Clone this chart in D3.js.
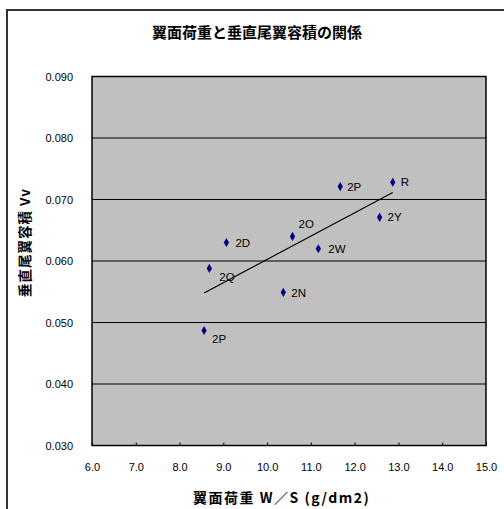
<!DOCTYPE html>
<html><head><meta charset="utf-8">
<script src="https://cdn.jsdelivr.net/npm/d3@7"></script>
<style>
html,body{margin:0;padding:0;background:#fff;}
svg{display:block;}
text{font-family:"Liberation Sans","Noto Sans CJK JP",sans-serif;fill:#000;}
text.jp{font-family:"Noto Sans CJK JP",sans-serif;}
</style></head>
<body>
<svg id="c" width="504" height="509"></svg>
<script>
const titleText = "翼面荷重と垂直尾翼容積の関係";
const xTitle = "翼面荷重 W／S (g/dm2)";
const yTitle = "垂直尾翼容積 Vv";
const names = ["R","2P","2Y","2O","2D","2W","2Q","2N","2P"];
const wingLoad = [12.87, 11.67, 12.57, 10.58, 9.07, 11.17, 8.68, 10.37, 8.56];
const tailVol  = [0.0728, 0.0721, 0.0671, 0.0640, 0.0630, 0.0620, 0.0588, 0.0549, 0.0487];
const xTicks = [6,7,8,9,10,11,12,13,14,15];
const yTicks = [0.030,0.040,0.050,0.060,0.070,0.080,0.090];

const svg = d3.select("#c");
const L=92, R=486, T=76.5, B=445.5;
const x = d3.scaleLinear().domain([6,15]).range([L,R]);
const y = d3.scaleLinear().domain([0.030,0.090]).range([B,T]);

// outer frame
svg.append("path").attr("d","M7,509 L7,10 L504,10").attr("fill","none").attr("stroke","#333").attr("stroke-width",2);

// plot area
svg.append("rect").attr("x",L).attr("y",T).attr("width",R-L).attr("height",B-T).attr("fill","#c0c0c0");

// gridlines
svg.append("g").selectAll("line").data(yTicks).join("line")
  .attr("x1",L).attr("x2",R).attr("y1",d=>y(d)).attr("y2",d=>y(d))
  .attr("stroke","#000").attr("stroke-width",1.2);

svg.append("rect").attr("x",L).attr("y",T).attr("width",R-L).attr("height",B-T)
  .attr("fill","none").attr("stroke","#000").attr("stroke-width",1.5);

// axes
const xAxis = d3.axisBottom(x).tickValues(xTicks).tickFormat(d3.format(".1f")).tickSize(3).tickSizeOuter(0);
const gx = svg.append("g").attr("transform",`translate(0,${B})`).call(xAxis);
gx.select(".domain").remove();
gx.selectAll(".tick line").attr("y1",-3).attr("y2",0).attr("stroke","#000");
gx.selectAll("text").attr("y",18).attr("font-size",11).attr("fill","#000");

const yAxis = d3.axisLeft(y).tickValues(yTicks).tickFormat(d3.format(".3f")).tickSize(0);
const gy = svg.append("g").attr("transform",`translate(${L},0)`).call(yAxis);
gy.select(".domain").remove();
gy.selectAll("text").attr("x",-19).attr("font-size",11).attr("fill","#000");

// trendline (least squares over the data)
const mx = d3.mean(wingLoad), my = d3.mean(tailVol);
let sxy=0,sxx=0;
wingLoad.forEach((v,i)=>{sxy+=(v-mx)*(tailVol[i]-my);sxx+=(v-mx)*(v-mx);});
const slope=sxy/sxx, icpt=my-slope*mx;
const xr = d3.extent(wingLoad);
svg.append("line").attr("x1",x(xr[0])).attr("y1",y(icpt+slope*xr[0]))
  .attr("x2",x(xr[1])).attr("y2",y(icpt+slope*xr[1]))
  .attr("stroke","#000").attr("stroke-width",1.2);

// points
const pts = names.map((n,i)=>({n, x:wingLoad[i], y:tailVol[i]}));
const sym = d3.symbol().type(d3.symbolDiamond).size(24);
svg.append("g").selectAll("path").data(pts).join("path")
  .attr("d",sym).attr("transform",d=>`translate(${x(d.x)},${y(d.y)})`)
  .attr("fill","#000080");

// labels
const off = {0:[8,4],1:[7,4],2:[8,4],3:[6,-8],4:[9,4],5:[10,4],6:[10,13],7:[8,5],8:[8,13]};
svg.append("g").selectAll("text").data(pts).join("text")
  .attr("x",(d,i)=>x(d.x)+off[i][0]).attr("y",(d,i)=>y(d.y)+off[i][1])
  .attr("font-size",11.5).text(d=>d.n);

// titles
svg.append("text").attr("class","jp").attr("x",152).attr("y",38)
  .attr("font-size",15).attr("font-weight","bold").text(titleText);
svg.append("text").attr("class","jp").attr("x",193).attr("y",503)
  .attr("font-size",14).attr("font-weight","bold").attr("letter-spacing",1.5).text(xTitle);
svg.append("text").attr("class","jp").attr("transform","translate(30,297) rotate(-90)")
  .attr("font-size",13.5).attr("font-weight","bold").attr("letter-spacing",1).text(yTitle);
</script>
</body></html>
